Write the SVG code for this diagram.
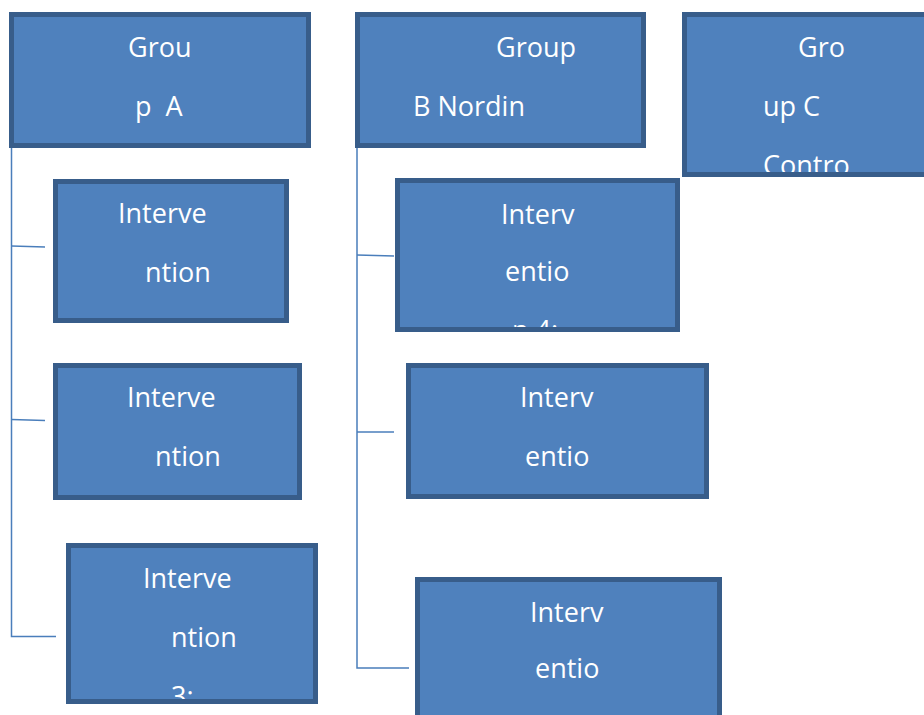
<svg xmlns="http://www.w3.org/2000/svg" width="924" height="715" viewBox="0 0 924 715">
<style>
.box{fill:#4f81bd;stroke:#385d8a;stroke-width:5}
.t{font-family:"Open Sans","Liberation Sans",sans-serif;font-size:27px;fill:#ffffff}
.c{fill:none;stroke:#4a7ebb;stroke-width:1.5}
</style>
<defs>
<clipPath id="cC"><rect x="687" y="17" width="240" height="155"/></clipPath>
<clipPath id="cA3"><rect x="71" y="548" width="242" height="151"/></clipPath>
<clipPath id="cB1"><rect x="400" y="183" width="275" height="144"/></clipPath>
</defs>
<rect width="924" height="715" fill="#ffffff"/>
<g id="connectors">
<path class="c" d="M11.5,148 V636.5 H56"/>
<path class="c" d="M11.5,246 L45,247"/>
<path class="c" d="M11.5,419.5 L45,420.5"/>
<path class="c" d="M357,148 V668 H409"/>
<path class="c" d="M357,255 L394,256"/>
<path class="c" d="M357,432 H394"/>
</g>
<g id="groupA">
<rect class="box" x="11.5" y="14.5" width="297" height="131"/>
<text class="t" x="128" y="57">Grou</text>
<text class="t" x="135" y="116" xml:space="preserve">p  A</text>
</g>
<g id="groupB">
<rect class="box" x="357.5" y="14.5" width="286" height="131"/>
<text class="t" x="496" y="57">Group</text>
<text class="t" x="413" y="116">B Nordin</text>
</g>
<g id="groupC">
<rect class="box" x="684.5" y="14.5" width="260" height="160"/>
<g clip-path="url(#cC)">
<text class="t" x="798" y="57">Gro</text>
<text class="t" x="763" y="116">up C</text>
<text class="t" x="763" y="175">Contro</text>
</g>
</g>
<g id="interventionA1">
<rect class="box" x="55.5" y="181.5" width="231" height="139"/>
<text class="t" x="118" y="223">Interve</text>
<text class="t" x="145" y="282">ntion</text>
</g>
<g id="interventionA2">
<rect class="box" x="55.5" y="365.5" width="244" height="132"/>
<text class="t" x="127" y="407">Interve</text>
<text class="t" x="155" y="466">ntion</text>
</g>
<g id="interventionA3">
<rect class="box" x="68.5" y="545.5" width="247" height="156"/>
<g clip-path="url(#cA3)">
<text class="t" x="143" y="588">Interve</text>
<text class="t" x="171" y="647">ntion</text>
<text class="t" x="171" y="706">3:</text>
</g>
</g>
<g id="interventionB1">
<rect class="box" x="397.5" y="180.5" width="280" height="149"/>
<g clip-path="url(#cB1)">
<text class="t" x="501" y="224">Interv</text>
<text class="t" x="505" y="281">entio</text>
<text class="t" x="512" y="340">n 4:</text>
</g>
</g>
<g id="interventionB2">
<rect class="box" x="408.5" y="365.5" width="298" height="131"/>
<text class="t" x="520" y="407">Interv</text>
<text class="t" x="525" y="466">entio</text>
</g>
<g id="interventionB3">
<rect class="box" x="417.5" y="579.5" width="302" height="150"/>
<text class="t" x="530" y="622">Interv</text>
<text class="t" x="535" y="678">entio</text>
</g>
</svg>
